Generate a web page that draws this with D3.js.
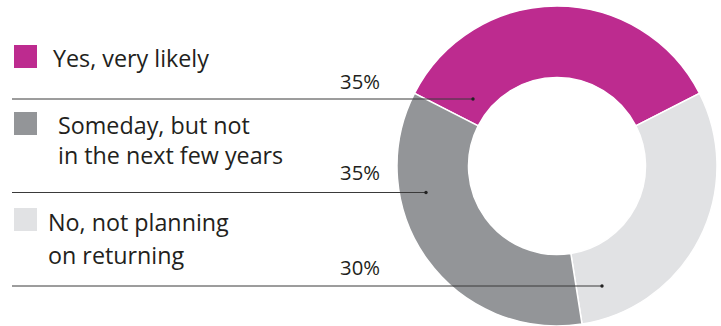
<!DOCTYPE html>
<html>
<head>
<meta charset="utf-8">
<script src="https://cdn.jsdelivr.net/npm/d3@7/dist/d3.min.js"></script>
<style>
  html, body { margin: 0; padding: 0; background: #fff; }
  svg text { font-family: "Open Sans", "Noto Sans", sans-serif; fill: #231f20; }
</style>
</head>
<body>
<svg id="chart" width="721" height="326"></svg>
<script>
// Survey answers, in legend order
const categories = ["Yes, very likely", "Someday, but not in the next few years", "No, not planning on returning"];
const legendLines = [["Yes, very likely"], ["Someday, but not", "in the next few years"], ["No, not planning", "on returning"]];
const shares = [35, 35, 30];
const shareLabels = ["35%", "35%", "30%"];
const colors = ["#bd2b8f", "#939598", "#e1e2e4"];
// Ring order, clockwise from the top-left: yes, no, someday
const ringOrder = [0, 2, 1];

const svg = d3.select("#chart");
const cx = 557, cy = 166, outerR = 160, innerR = 88.5;

const pie = d3.pie()
  .sort(null)
  .value(i => shares[i])
  .startAngle(-0.35 * Math.PI)
  .endAngle(-0.35 * Math.PI + 2 * Math.PI);

const arc = d3.arc().innerRadius(innerR).outerRadius(outerR);

const ring = svg.append("g").attr("transform", `translate(${cx},${cy})`);
ring.selectAll("path")
  .data(pie(ringOrder))
  .join("path")
  .attr("d", arc)
  .attr("fill", d => colors[d.data])
  .attr("stroke", "#fff")
  .attr("stroke-width", 1.5);

// Legend rows: swatch, wrapped label, share, rule running into the ring
const rows = [
  { sq: 45, tx: 53, ty: [67], rule: 99, pctY: 89, anchor: [-84, -67] },
  { sq: 112, tx: 58, ty: [134, 164], rule: 192.5, pctY: 180, anchor: [-131, 26] },
  { sq: 208, tx: 48, ty: [231, 264], rule: 286, pctY: 275, anchor: [45, 120] }
];

const legend = svg.append("g");
rows.forEach((r, i) => {
  legend.append("rect")
    .attr("x", 14).attr("y", r.sq)
    .attr("width", 23).attr("height", 23)
    .attr("fill", colors[i]);

  const t = legend.append("text")
    .attr("font-size", 23.3);
  legendLines[i].forEach((ln, k) => {
    t.append("tspan").attr("x", r.tx).attr("y", r.ty[k]).text(ln);
  });

  legend.append("text")
    .attr("x", 380).attr("y", r.pctY)
    .attr("text-anchor", "end")
    .attr("font-size", 20.3)
    .text(shareLabels[i]);
});

const leaders = svg.append("g");
rows.forEach((r, i) => {
  const ex = cx + r.anchor[0];
  leaders.append("line")
    .attr("x1", 12).attr("x2", ex)
    .attr("y1", r.rule).attr("y2", r.rule)
    .attr("stroke", "#3a3a3a").attr("stroke-width", 1);
  leaders.append("circle")
    .attr("cx", ex).attr("cy", r.rule)
    .attr("r", 1.7).attr("fill", "#222");
});
</script>
</body>
</html>
